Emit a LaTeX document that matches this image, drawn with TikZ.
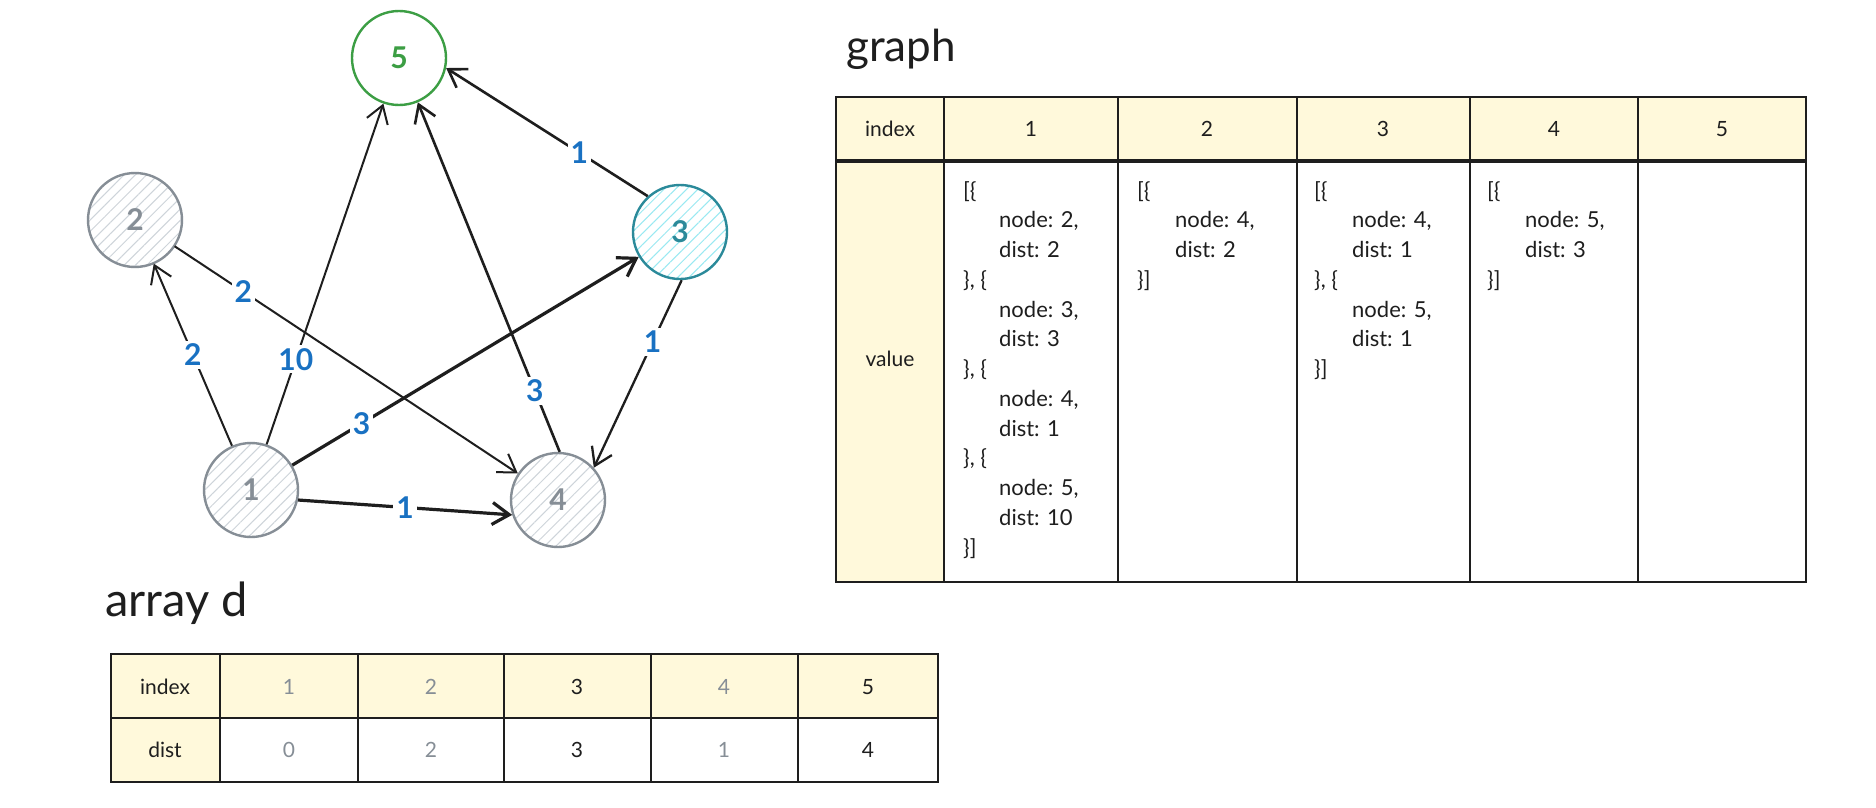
\documentclass[tikz,border=0pt]{standalone}
\usepackage{fontspec}
\setmainfont{Lato}
\usetikzlibrary{arrows.meta,patterns.meta}
\definecolor{edgeblue}{HTML}{1971C2}
\definecolor{nodegray}{HTML}{868E96}
\definecolor{hatchgray}{HTML}{CED4DA}
\definecolor{teal3}{HTML}{2B8A9A}
\definecolor{hatchcyan}{HTML}{99E9F2}
\definecolor{green5}{HTML}{3C9E44}
\definecolor{cellyellow}{HTML}{FFF9DB}
\definecolor{ink}{HTML}{1E1E1E}
\begin{document}
\begin{tikzpicture}[x=1pt,y=-1pt,
  gnode/.style={circle, minimum size=94pt, inner sep=0pt, line width=2.4pt,
    font=\fontsize{30}{36}\selectfont\bfseries},
  grayn/.style={gnode, draw=nodegray, text=nodegray,
    pattern={Lines[angle=45,distance=8pt,line width=1pt]}, pattern color=hatchgray},
  edge/.style={draw=ink, line width=2pt, -{Straight Barb[length=17pt,width=22pt]}},
  elabel/.style={fill=white, text=edgeblue, inner sep=3pt,
    font=\fontsize{30}{36}\selectfont\bfseries},
  tline/.style={draw=ink, line width=2.4pt},
  cellt/.style={font=\fontsize{21}{26}\selectfont, text=ink},
  code/.style={anchor=north west, align=left, inner sep=0pt, text=ink,
    font=\fontsize{22}{29.75}\selectfont},
  title/.style={anchor=base west, inner sep=0pt, text=ink,
    font=\fontsize{44}{52}\selectfont},
  dim/.style={text=nodegray}
]
\useasboundingbox[fill=white] (0,0) rectangle (1876,808);

% ---------------- graph nodes ----------------
\node[gnode, draw=green5, text=green5, fill=white] (n5) at (399,58) {5};
\node[grayn] (n2) at (135,220) {2};
\node[gnode, draw=teal3, text=teal3,
  pattern={Lines[angle=45,distance=8pt,line width=1pt]}, pattern color=hatchcyan] (n3) at (680,232) {3};
\node[grayn] (n1) at (251,490) {1};
\node[grayn] (n4) at (558,500) {4};

% ---------------- edges ----------------
\draw[edge] (n1) -- node[elabel,pos=.5]{2} (n2);
\draw[edge] (n1) -- node[elabel,pos=.25]{10} (n5);
\draw[edge, line width=3.2pt] (n1) -- node[elabel,pos=.2]{3} (n3);
\draw[edge, line width=3.2pt] (n1.-12) -- node[elabel,pos=.5]{1} (n4.198);
\draw[edge] (n2) -- node[elabel,pos=.2]{2} (n4);
\draw[edge, line width=2.6pt] (n4.88) -- node[elabel,pos=.175]{3} (n5.-67);
\draw[edge, line width=2.6pt] (n3.132) -- node[elabel,pos=.34]{1} (n5.-12);
\draw[edge, line width=2.3pt] (n3.-88) -- node[elabel,pos=.33]{1} (n4.42);

% ---------------- graph table ----------------
\node[title] (gtitle) at (846,62) {graph};
\fill[cellyellow] (836,97) rectangle (1806,161);
\fill[cellyellow] (836,161) rectangle (944,582);
\draw[tline] (836,97) rectangle (1806,582);
\foreach \x in {944,1118,1297,1470,1638} \draw[tline] (\x,97) -- (\x,582);
\draw[draw=ink, line width=4.5pt] (836,161) -- (1806,161);

\node[cellt] (gidx) at (890,129) {index};
\node[cellt] (gval) at (890,359) {value};
\node[cellt] (gh1) at (1031,129) {1};
\node[cellt] (gh2) at (1207,129) {2};
\node[cellt] (gh3) at (1383,129) {3};
\node[cellt] (gh4) at (1554,129) {4};
\node[cellt] (gh5) at (1722,129) {5};

\node[code] (gc1) at (963,177) {\strut[\{\\
\hspace*{36pt}node: 2,\\
\hspace*{36pt}dist: 2\\
\}, \{\\
\hspace*{36pt}node: 3,\\
\hspace*{36pt}dist: 3\\
\}, \{\\
\hspace*{36pt}node: 4,\\
\hspace*{36pt}dist: 1\\
\}, \{\\
\hspace*{36pt}node: 5,\\
\hspace*{36pt}dist: 10\\
\}]};
\node[code] (gc2) at (1137,177) {\strut[\{\\
\hspace*{38pt}node: 4,\\
\hspace*{38pt}dist: 2\\
\}]};
\node[code] (gc3) at (1314,177) {\strut[\{\\
\hspace*{38pt}node: 4,\\
\hspace*{38pt}dist: 1\\
\}, \{\\
\hspace*{38pt}node: 5,\\
\hspace*{38pt}dist: 1\\
\}]};
\node[code] (gc4) at (1487,177) {\strut[\{\\
\hspace*{38pt}node: 5,\\
\hspace*{38pt}dist: 3\\
\}]};

% ---------------- array d ----------------
\node[title, font=\fontsize{47}{54}\selectfont] (dtitle) at (105,616) {array d};
\fill[cellyellow] (111,654) rectangle (938,718);
\fill[cellyellow] (111,718) rectangle (220,782);
\draw[tline] (111,654) rectangle (938,782);
\draw[tline] (111,718) -- (938,718);
\foreach \x in {220,358,504,651,798} \draw[tline] (\x,654) -- (\x,782);

\node[cellt] (didx) at (165,687) {index};
\node[cellt] (ddist) at (165,750) {dist};
\node[cellt,dim] (di1) at (289,687) {1};
\node[cellt,dim] (di2) at (431,687) {2};
\node[cellt] (di3) at (577,687) {3};
\node[cellt,dim] (di4) at (724,687) {4};
\node[cellt] (di5) at (868,687) {5};
\node[cellt,dim] (dd1) at (289,750) {0};
\node[cellt,dim] (dd2) at (431,750) {2};
\node[cellt] (dd3) at (577,750) {3};
\node[cellt,dim] (dd4) at (724,750) {1};
\node[cellt] (dd5) at (868,750) {4};
\end{tikzpicture}
\end{document}
